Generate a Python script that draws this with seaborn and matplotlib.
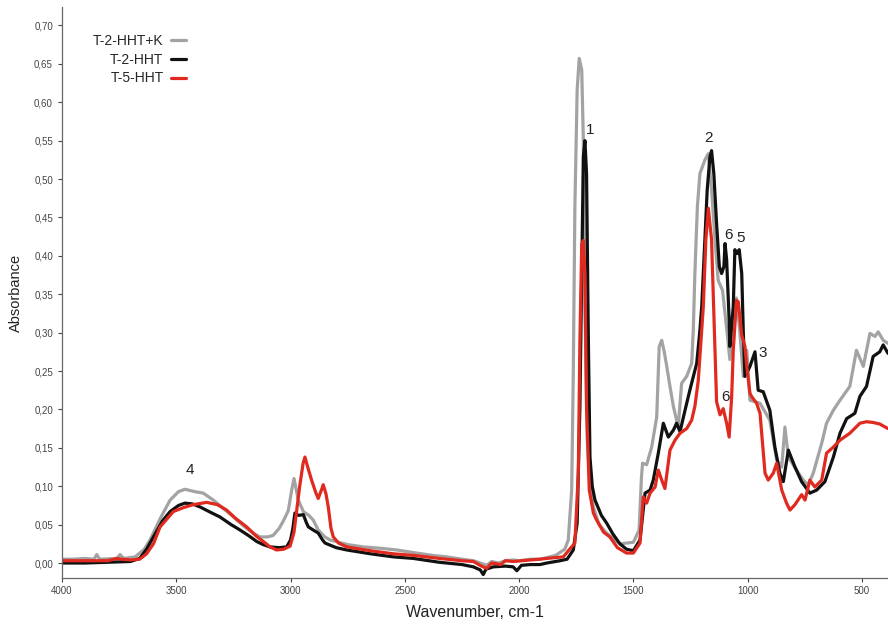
import matplotlib
matplotlib.use("Agg")
import matplotlib.pyplot as plt
import seaborn as sns
from matplotlib.ticker import FuncFormatter

# ---------------- data ----------------
wn_gray = [4000, 3950, 3900, 3860, 3848, 3835, 3760, 3746, 3730, 3680, 3640, 3615, 3570, 3527,
           3490, 3462, 3420, 3382, 3338, 3290, 3250, 3200, 3164, 3134, 3100, 3076, 3050, 3033,
           3010, 2995, 2985, 2975, 2966, 2944, 2920, 2901, 2879, 2850, 2827, 2750, 2682, 2600,
           2536, 2450, 2380, 2317, 2250, 2200, 2170, 2142, 2120, 2090, 2060, 2026, 2000, 1950,
           1909, 1879, 1840, 1800, 1785, 1770, 1763, 1756, 1746, 1737, 1726, 1719, 1712, 1702,
           1690, 1675, 1650, 1617, 1590, 1559, 1530, 1500, 1475, 1465, 1460, 1442, 1420, 1398,
           1387, 1376, 1365, 1354, 1340, 1325, 1304, 1289, 1267, 1245, 1238, 1231, 1220, 1209,
           1187, 1172, 1158, 1143, 1129, 1110, 1090, 1078, 1063, 1049, 1034, 1019, 1004, 990,
           946, 903, 873, 851, 837, 822, 786, 757, 735, 713, 676, 655, 625, 596, 553, 524, 494,
           465, 443, 429, 407, 386]
abs_gray = [0.005, 0.005, 0.006, 0.005, 0.011, 0.005, 0.006, 0.011, 0.006, 0.008, 0.018, 0.030,
            0.058, 0.082, 0.093, 0.096, 0.093, 0.091, 0.082, 0.070, 0.060, 0.047, 0.039, 0.034,
            0.034, 0.036, 0.045, 0.054, 0.068, 0.095, 0.110, 0.095, 0.082, 0.067, 0.062, 0.056,
            0.043, 0.034, 0.030, 0.024, 0.021, 0.019, 0.017, 0.013, 0.010, 0.008, 0.005, 0.003,
            0.000, -0.003, 0.002, 0.000, 0.003, 0.004, 0.003, 0.005, 0.005, 0.007, 0.010, 0.018,
            0.030, 0.095, 0.247, 0.464, 0.616, 0.657, 0.642, 0.551, 0.334, 0.160, 0.100, 0.073,
            0.050, 0.039, 0.032, 0.025, 0.026, 0.027, 0.043, 0.110, 0.130, 0.128, 0.151, 0.190,
            0.282, 0.290, 0.275, 0.256, 0.230, 0.204, 0.177, 0.234, 0.243, 0.260, 0.303, 0.377,
            0.464, 0.507, 0.525, 0.533, 0.486, 0.421, 0.368, 0.355, 0.300, 0.265, 0.310, 0.345,
            0.300, 0.243, 0.277, 0.212, 0.208, 0.186, 0.134, 0.125, 0.177, 0.138, 0.121, 0.108,
            0.102, 0.117, 0.156, 0.182, 0.199, 0.212, 0.230, 0.277, 0.256, 0.299, 0.295, 0.301,
            0.290, 0.286]

wn_black = [4000, 3900, 3800, 3700, 3660, 3630, 3600, 3560, 3527, 3490, 3462, 3430, 3396, 3350,
            3309, 3260, 3221, 3180, 3148, 3120, 3090, 3050, 3017, 3000, 2990, 2981, 2965, 2944,
            2930, 2922, 2901, 2879, 2860, 2849, 2800, 2754, 2650, 2550, 2463, 2350, 2250, 2200,
            2170, 2157, 2145, 2113, 2060, 2026, 2010, 1990, 1950, 1909, 1879, 1821, 1790, 1763,
            1746, 1734, 1726, 1719, 1712, 1705, 1697, 1690, 1680, 1668, 1640, 1617, 1590, 1559,
            1530, 1500, 1471, 1449, 1427, 1413, 1391, 1369, 1347, 1325, 1311, 1296, 1274, 1253,
            1223, 1209, 1201, 1187, 1177, 1165, 1158, 1148, 1136, 1124, 1114, 1104, 1099, 1092,
            1081, 1078, 1063, 1056, 1046, 1037, 1026, 1019, 1012, 990, 968, 954, 932, 903, 881,
            859, 844, 822, 793, 764, 728, 698, 662, 625, 596, 567, 531, 509, 480, 451, 422, 407,
            386]
abs_black = [0.000, 0.000, 0.001, 0.002, 0.006, 0.018, 0.034, 0.055, 0.067, 0.075, 0.078, 0.077,
             0.073, 0.066, 0.060, 0.050, 0.043, 0.035, 0.028, 0.024, 0.021, 0.020, 0.021, 0.030,
             0.045, 0.065, 0.062, 0.063, 0.052, 0.047, 0.043, 0.039, 0.030, 0.026, 0.020, 0.017,
             0.012, 0.008, 0.006, 0.001, -0.002, -0.005, -0.009, -0.015, -0.008, -0.005, -0.004,
             -0.005, -0.010, -0.003, -0.002, -0.002, 0.000, 0.003, 0.005, 0.017, 0.052, 0.204,
             0.377, 0.529, 0.550, 0.507, 0.290, 0.138, 0.100, 0.082, 0.062, 0.052, 0.038, 0.025,
             0.018, 0.016, 0.030, 0.091, 0.095, 0.108, 0.143, 0.182, 0.164, 0.173, 0.182, 0.171,
             0.199, 0.225, 0.260, 0.303, 0.334, 0.421, 0.486, 0.529, 0.537, 0.507, 0.442, 0.386,
             0.377, 0.386, 0.416, 0.395, 0.316, 0.282, 0.334, 0.408, 0.403, 0.408, 0.377, 0.300,
             0.243, 0.256, 0.275, 0.225, 0.223, 0.199, 0.151, 0.117, 0.106, 0.147, 0.125, 0.106,
             0.091, 0.095, 0.106, 0.138, 0.169, 0.188, 0.195, 0.217, 0.230, 0.269, 0.275, 0.284,
             0.273]

wn_red = [4000, 3900, 3800, 3760, 3740, 3700, 3660, 3630, 3600, 3571, 3513, 3470, 3426, 3367,
          3320, 3280, 3240, 3192, 3150, 3119, 3090, 3061, 3030, 3002, 2985, 2973, 2960, 2945,
          2937, 2925, 2908, 2890, 2879, 2865, 2857, 2845, 2835, 2823, 2813, 2790, 2754, 2650,
          2550, 2463, 2350, 2250, 2200, 2165, 2142, 2120, 2080, 2060, 2026, 1990, 1950, 1909,
          1879, 1807, 1756, 1741, 1734, 1726, 1719, 1712, 1705, 1693, 1675, 1661, 1630, 1603,
          1570, 1530, 1500, 1471, 1457, 1442, 1427, 1405, 1391, 1376, 1362, 1340, 1318, 1296,
          1267, 1245, 1231, 1216, 1201, 1194, 1183, 1172, 1158, 1143, 1136, 1121, 1107, 1092,
          1081, 1070, 1063, 1049, 1041, 1026, 1012, 1004, 990, 983, 961, 946, 924, 910, 888,
          873, 851, 830, 815, 793, 764, 749, 728, 706, 676, 655, 625, 596, 553, 509, 480, 451,
          422, 386]
abs_red = [0.003, 0.003, 0.003, 0.006, 0.005, 0.004, 0.005, 0.012, 0.025, 0.047, 0.067, 0.072,
           0.076, 0.079, 0.076, 0.069, 0.058, 0.047, 0.035, 0.028, 0.021, 0.017, 0.018, 0.022,
           0.040, 0.069, 0.100, 0.130, 0.138, 0.125, 0.108, 0.092, 0.084, 0.095, 0.102, 0.090,
           0.073, 0.045, 0.034, 0.026, 0.021, 0.016, 0.012, 0.010, 0.006, 0.003, 0.002, -0.004,
           -0.007, 0.000, -0.002, 0.003, 0.002, 0.003, 0.004, 0.005, 0.006, 0.008, 0.026, 0.117,
           0.290, 0.415, 0.420, 0.377, 0.204, 0.095, 0.065, 0.056, 0.040, 0.034, 0.020, 0.013,
           0.013, 0.026, 0.086, 0.078, 0.091, 0.099, 0.121, 0.108, 0.097, 0.147, 0.160, 0.169,
           0.175, 0.186, 0.204, 0.238, 0.303, 0.334, 0.421, 0.462, 0.421, 0.280, 0.210, 0.193,
           0.201, 0.182, 0.164, 0.217, 0.277, 0.342, 0.340, 0.297, 0.282, 0.256, 0.221, 0.217,
           0.208, 0.195, 0.117, 0.108, 0.117, 0.130, 0.095, 0.078, 0.069, 0.076, 0.089, 0.082,
           0.108, 0.099, 0.108, 0.143, 0.151, 0.160, 0.169, 0.182, 0.184, 0.183, 0.181, 0.175]

series_names = ["T-2-HHT+K", "T-2-HHT", "T-5-HHT"]
series_colors = ["#a3a3a3", "#111111", "#e02a1f"]

# peak labels
peak_labels = ["1", "2", "6", "5", "3", "6", "4"]
peak_wn = [1690, 1172, 1086, 1029, 936, 1097, 3440]
peak_abs = [0.564, 0.553, 0.427, 0.423, 0.273, 0.216, 0.121]

x_ticks = [4000, 3500, 3000, 2500, 2000, 1500, 1000, 500]
y_ticks = [0.00, 0.05, 0.10, 0.15, 0.20, 0.25, 0.30, 0.35, 0.40, 0.45, 0.50, 0.55, 0.60, 0.65, 0.70]

# ---------------- style ----------------
sns.set_style("ticks")
plt.rcParams['font.family'] = ['Liberation Sans', 'DejaVu Sans']

fig = plt.figure(figsize=(8.88, 6.26), dpi=100)
ax = fig.add_axes([62 / 888, 48 / 626, 826 / 888, 571 / 626])

all_wn = [wn_gray, wn_black, wn_red]
all_abs = [abs_gray, abs_black, abs_red]
for name, col, xs, ys in zip(series_names, series_colors, all_wn, all_abs):
    sns.lineplot(x=xs, y=ys, ax=ax, color=col, linewidth=2.3, label=name,
                 estimator=None, sort=False)

for lab, xw, ya in zip(peak_labels, peak_wn, peak_abs):
    ax.text(xw, ya, lab, ha='center', va='center', fontsize=11, color='#222222')

ax.set_xlim(4000, 386)
ax.set_ylim(-0.0195, 0.724)
ax.set_xticks(x_ticks)
ax.set_yticks(y_ticks)
ax.yaxis.set_major_formatter(FuncFormatter(lambda v, p: f"{v:.2f}".replace('.', ',')))

sns.despine(ax=ax)
for side in ['left', 'bottom']:
    ax.spines[side].set_color('#666666')
    ax.spines[side].set_linewidth(0.9)
ax.tick_params(axis='both', labelsize=7, colors='#444444', length=3, width=0.8)
ax.tick_params(axis='x', pad=3)

ax.set_xlabel('Wavenumber, cm-1', fontsize=11.5, color='#222222', labelpad=6)
ax.set_ylabel('Absorbance', fontsize=10.5, color='#222222', labelpad=8)

ax.legend(loc='upper right', bbox_to_anchor=(0.165, 0.975), frameon=False,
          markerfirst=False, fontsize=10, handlelength=1.1, handletextpad=0.5,
          labelspacing=0.35)

fig.savefig('out.png', dpi=100)
